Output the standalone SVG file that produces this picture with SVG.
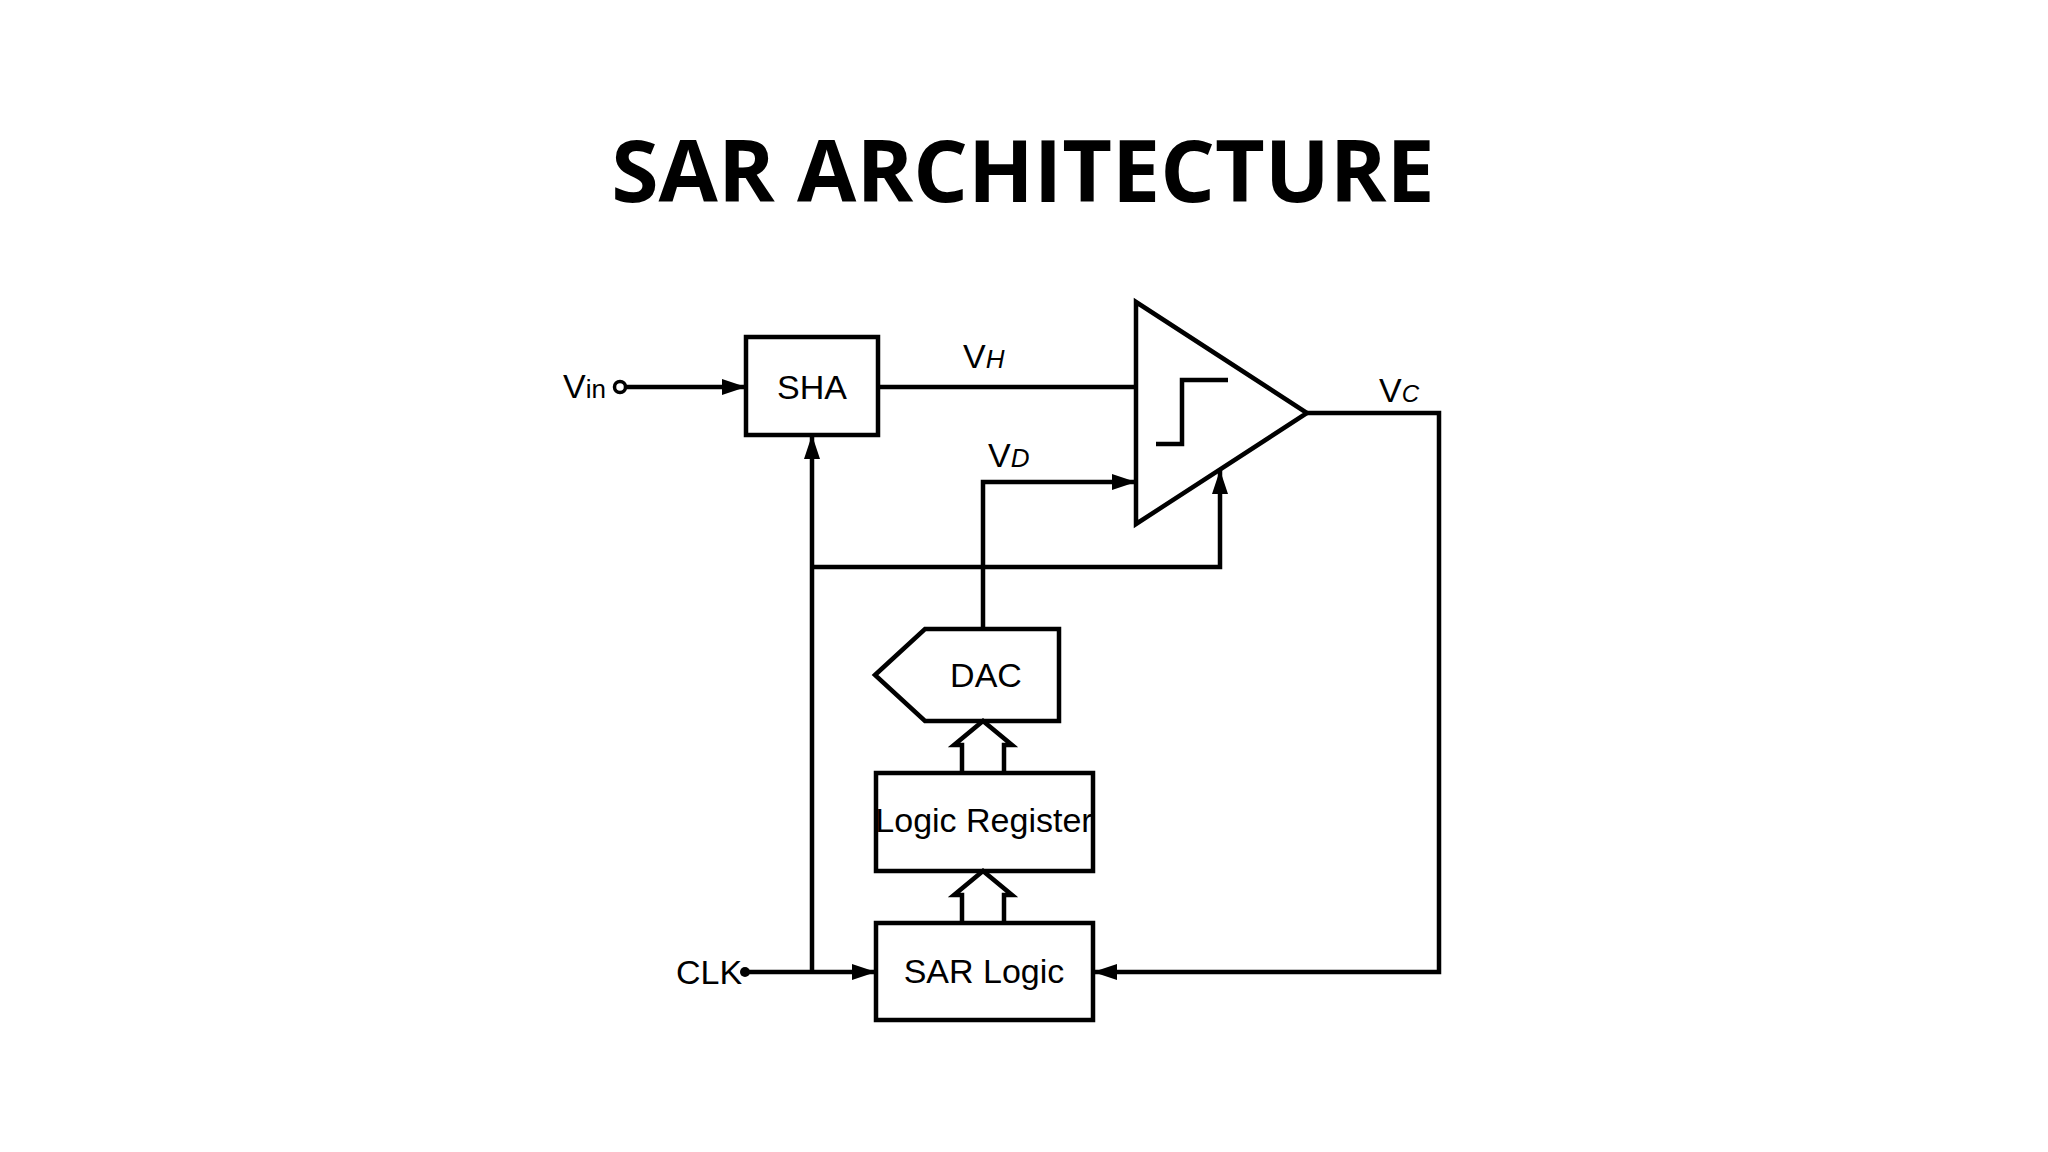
<svg xmlns="http://www.w3.org/2000/svg" width="2048" height="1152" viewBox="0 0 2048 1152">
<style>
.s{fill:none;stroke:#000;stroke-width:4.5}
.b{fill:#fff;stroke:#000;stroke-width:4.5}
.t{font-family:"Liberation Sans",Arial,sans-serif;font-size:34px;fill:#000}
</style>
<defs><marker id="a" markerWidth="10" markerHeight="8" refX="10" refY="4" orient="auto" markerUnits="userSpaceOnUse" viewBox="0 0 10 8"><path d="M0,0L10,4L0,8z" transform="scale(1)"/></marker>
<marker id="ah" markerWidth="24" markerHeight="16" refX="24" refY="8" orient="auto" markerUnits="userSpaceOnUse"><path d="M0,0L24,8L0,16z"/></marker></defs>
<rect width="2048" height="1152" fill="#fff"/>
<text x="1023" y="202" text-anchor="middle" font-family="'Open Sans','Noto Sans',sans-serif" font-weight="bold" font-size="86">SAR ARCHITECTURE</text>
<g id="connectors">
<path class="s" d="M626,387H746" marker-end="url(#ah)"/>
<path class="s" d="M878,387H1136"/>
<path class="s" d="M1307,413H1439V972H1093" marker-end="url(#ah)"/>
<path class="s" d="M983,629V482H1136" marker-end="url(#ah)"/>
<path class="s" d="M748,972H876" marker-end="url(#ah)"/>
<path class="s" d="M812,972V435" marker-end="url(#ah)"/>
<path class="s" d="M812,567H1220V470" marker-end="url(#ah)"/>
<circle cx="620" cy="387" r="5.5" fill="#fff" stroke="#000" stroke-width="3.5"/>
<circle cx="745" cy="972" r="5" fill="#000"/>
</g>
<g id="vin"><text class="t" x="563" y="398" font-size="40">V<tspan font-size="26">in</tspan></text></g>
<g id="vh"><text class="t" x="963" y="368" font-size="40">V<tspan font-size="26" font-style="italic">H</tspan></text></g>
<g id="vd"><text class="t" x="988" y="467" font-size="40">V<tspan font-size="26" font-style="italic">D</tspan></text></g>
<g id="vc"><text class="t" x="1379" y="402" font-size="34">V<tspan font-size="24" font-style="italic">C</tspan></text></g>
<g id="clk"><text class="t" x="676" y="984">CLK</text></g>
<g id="sha"><rect class="b" x="746" y="337" width="132" height="98"/><text class="t" x="812" y="399" text-anchor="middle">SHA</text></g>
<g id="comp"><path class="b" d="M1136,302L1307,413L1136,524Z"/><path class="s" d="M1156,444H1182V380H1228"/></g>
<g id="dac"><path class="b" d="M875,675L925,629H1059V721H925Z"/><text class="t" x="986" y="687" text-anchor="middle">DAC</text></g>
<g id="arrow1"><path class="b" d="M962,773V745H954L983,721L1012,745H1004V773"/></g>
<g id="logreg"><rect class="b" x="876" y="773" width="217" height="98"/><text class="t" x="984" y="832" text-anchor="middle">Logic Register</text></g>
<g id="arrow2"><path class="b" d="M962,923V895H954L983,871L1012,895H1004V923"/></g>
<g id="sar"><rect class="b" x="876" y="923" width="217" height="97"/><text class="t" x="984" y="983" text-anchor="middle">SAR Logic</text></g>
</svg>
